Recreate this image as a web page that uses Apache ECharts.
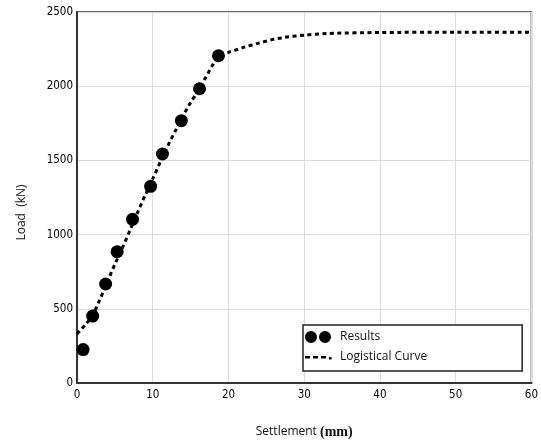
<!DOCTYPE html>
<html>
<head>
<meta charset="utf-8">
<script src="https://cdn.jsdelivr.net/npm/echarts@6/dist/echarts.min.js"></script>
<style>html,body{margin:0;padding:0;background:#fff}#c{width:541px;height:445px}</style>
</head>
<body>
<div id="c"></div>
<script>
// Measured test results (settlement mm, load kN)
const resultSettlement = [0.8, 2.07, 3.78, 5.3, 7.33, 9.72, 11.28, 13.78, 16.18, 18.68];
const resultLoad = [225, 451, 667, 885, 1103, 1325, 1543, 1768, 1983, 2205];
// Logistical curve
const curveSettlement = [0, 1, 2, 3, 4, 5, 6, 7, 8, 9, 10, 11, 12, 13, 14, 15, 16, 17, 18, 18.7, 20, 22, 24, 26, 28, 30, 33, 40, 50, 60];
const curveLoad = [330, 388, 450, 560, 680, 800, 910, 1030, 1150, 1265, 1375, 1490, 1600, 1700, 1800, 1890, 1970, 2060, 2150, 2205, 2228, 2262, 2290, 2316, 2333, 2344, 2355, 2362, 2363, 2363];
const xTicks = [0, 10, 20, 30, 40, 50, 60];
const yTicks = [0, 500, 1000, 1500, 2000, 2500];

const chart = echarts.init(document.getElementById('c'));
const lblFont = {color: '#000', fontFamily: 'DejaVu Sans Condensed', fontSize: 11.5};
chart.setOption({
  animation: false,
  backgroundColor: '#fff',
  grid: {left: 77, right: 8, top: 12, bottom: 62, show: true, borderColor: '#333', borderWidth: 1.5, backgroundColor: 'transparent'},
  legend: {
    orient: 'vertical', left: 303, top: 325,
    padding: [6, 95, 8, 2], itemGap: 8, itemWidth: 30, itemHeight: 12,
    borderColor: '#222', borderWidth: 1.5, backgroundColor: '#fff',
    textStyle: {color: '#111', fontFamily: 'Open Sans', fontSize: 12},
    itemStyle: {borderWidth: 0},
    data: [
      {name: 'Results', icon: 'path://M0,0M30,12M0,6a6,6 0 1,0 12,0a6,6 0 1,0 -12,0zM14,6a6,6 0 1,0 12,0a6,6 0 1,0 -12,0z'},
      {name: 'Logistical Curve', icon: 'path://M0,0M30,12M0,5h5v2.5h-5zM8,5h5v2.5h-5zM16,5h5v2.5h-5zM24,6h2.5v2.5h-2.5z'}
    ]
  },
  xAxis: {
    type: 'value', min: 0, max: 60, interval: 10,
    name: 'Settlement {s|(mm)}', nameLocation: 'middle', nameGap: 42,
    nameTextStyle: {color: '#111', fontFamily: 'Open Sans', fontSize: 12,
      rich: {s: {fontFamily: 'Liberation Serif', fontSize: 14, fontWeight: 'bold', color: '#111'}}},
    axisLine: {lineStyle: {color: '#333', width: 2}},
    axisTick: {show: false},
    axisLabel: Object.assign({margin: 6, formatter: v => xTicks.includes(v) ? String(v) : ''}, lblFont),
    splitLine: {show: true, lineStyle: {color: '#dcdcdc', width: 1}}
  },
  yAxis: {
    type: 'value', min: 0, max: 2500, interval: 500,
    name: 'Load  (kN)', nameLocation: 'middle', nameGap: 49,
    nameTextStyle: {color: '#111', fontFamily: 'Open Sans', fontSize: 12, padding: [0, 30, 0, 0]},
    axisLine: {lineStyle: {color: '#333', width: 2}},
    axisTick: {show: false},
    axisLabel: Object.assign({margin: 4, formatter: v => yTicks.includes(v) ? String(v) : ''}, lblFont),
    splitLine: {show: true, lineStyle: {color: '#dcdcdc', width: 1}}
  },
  series: [
    {
      name: 'Logistical Curve', type: 'line', showSymbol: false, smooth: 0.25,
      data: curveSettlement.map((x, i) => [x, curveLoad[i]]),
      lineStyle: {color: '#000', width: 3, type: [4, 3.5]},
      itemStyle: {color: '#000'}, z: 2
    },
    {
      name: 'Results', type: 'scatter', symbol: 'circle', symbolSize: 13,
      data: resultSettlement.map((x, i) => [x, resultLoad[i]]),
      itemStyle: {color: '#000', opacity: 1}, z: 3
    }
  ]
});
</script>
</body>
</html>
